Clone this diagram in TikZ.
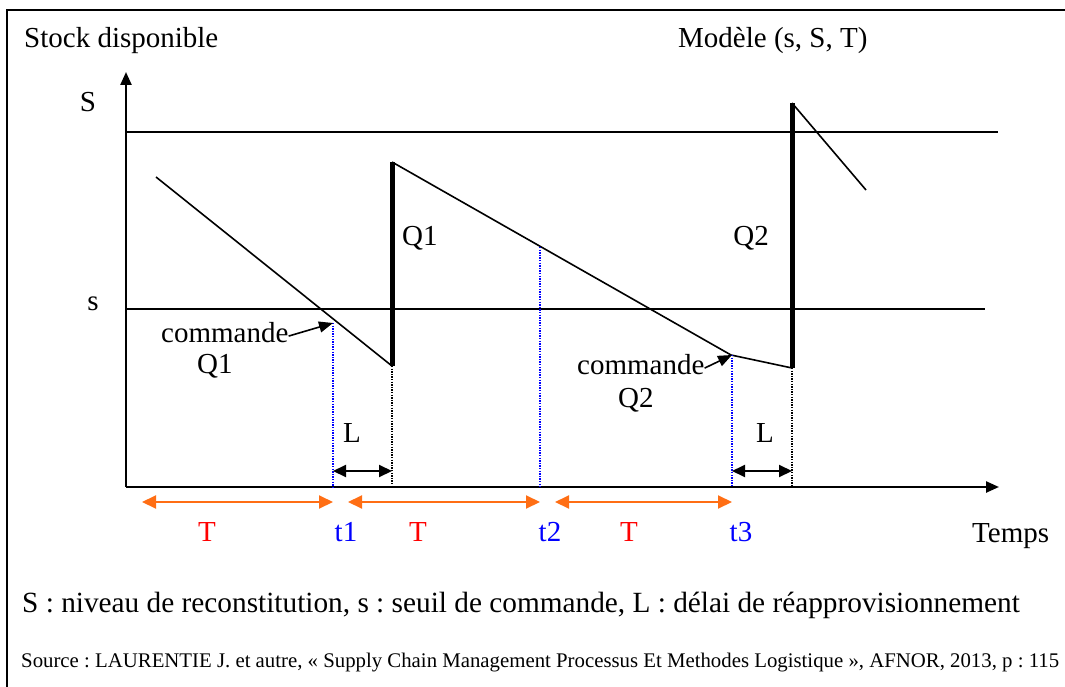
\documentclass[tikz,border=0pt]{standalone}
\usepackage{fontspec}
\setmainfont{Liberation Serif}
\usetikzlibrary{arrows.meta}
\definecolor{ora}{RGB}{255,110,20}
\definecolor{tblue}{RGB}{0,0,255}
\definecolor{tred}{RGB}{255,0,0}
\frenchspacing
\begin{document}
\begin{tikzpicture}[x=1pt,y=-1pt,
  lab/.style={inner sep=0pt, font=\fontsize{29}{34}\selectfont},
  legend/.style={inner sep=0pt, font=\fontsize{29.3}{34}\selectfont},
  srcfont/.style={inner sep=0pt, font=\fontsize{20.8}{24}\selectfont},
  frame/.style={line width=2pt},
  axis/.style={line width=2.4pt, -{Triangle[length=13pt,width=11pt]}},
  level/.style={line width=1.8pt},
  stock/.style={line width=1.6pt},
  refill/.style={line width=5pt},
  bdot/.style={tblue, line width=1.3pt, dash pattern=on 1.3pt off 1.3pt},
  kdot/.style={black, line width=1.3pt, dash pattern=on 1.3pt off 1.3pt},
  larrow/.style={line width=2pt, {Triangle[length=13pt,width=12pt]}-{Triangle[length=13pt,width=12pt]}},
  oarrow/.style={ora, line width=2pt, {Triangle[length=14pt,width=13pt]}-{Triangle[length=14pt,width=13pt]}},
  carrow/.style={line width=1.6pt, -{Triangle[length=14pt,width=11pt]}}]
\useasboundingbox (0,0) rectangle (1065,687);
% frame
\draw[frame] (7,687) -- (7,10) -- (1065,10);
% titles
\node[lab, anchor=base west] (title) at (24,48) {Stock disponible};
\node[lab, anchor=base west] (model) at (678,48) {Modèle (s, S, T)};
% axes
\coordinate (O) at (126,487);
\coordinate (ytop) at (126,72);
\coordinate (xend) at (999,487);
\draw[axis] (O) -- (ytop);
\draw[axis] (O) -- (xend);
% levels
\coordinate (Sl) at (126,132); \coordinate (Sr) at (998,132);
\coordinate (sl) at (126,309); \coordinate (sr) at (985,309);
\draw[level] (Sl) -- (Sr);
\draw[level] (sl) -- (sr);
\node[lab, anchor=base] (Slab) at (88,112) {S};
\node[lab, anchor=base] (slab) at (93,310) {s};
% stock curve
\coordinate (a0) at (156,177);
\coordinate (a1) at (392,366);
\coordinate (a2) at (392,162);
\coordinate (a3) at (731,355);
\coordinate (a4) at (792,368);
\coordinate (a5) at (792,103);
\coordinate (a6) at (866,190);
\draw[stock] (a0) -- (a1);
\draw[stock] (a2) -- (a3) -- (a4);
\draw[stock] (a5) -- (a6);
\draw[refill] (a1) -- (a2);
\draw[refill] (a4) -- (a5);
\node[lab, anchor=base west] (Q1) at (402,245) {Q1};
\node[lab, anchor=base east] (Q2) at (769,245) {Q2};
% dotted verticals
\coordinate (t1top) at (333,323); \coordinate (t1bot) at (333,487);
\coordinate (t2top) at (540,247); \coordinate (t2bot) at (540,487);
\coordinate (t3top) at (732,355); \coordinate (t3bot) at (732,487);
\coordinate (r1bot) at (392,487); \coordinate (r2bot) at (792,487);
\draw[bdot] (t1top) -- (t1bot);
\draw[bdot] (t2top) -- (t2bot);
\draw[bdot] (t3top) -- (t3bot);
\draw[kdot] (a1) -- (r1bot);
\draw[kdot] (a4) -- (r2bot);
% order labels
\node[lab, anchor=base west] (cmd1) at (161,342) {commande};
\node[lab, anchor=base west] (cq1) at (197,373) {Q1};
\node[lab, anchor=base west] (cmd2) at (577,374) {commande};
\node[lab, anchor=base west] (cq2) at (618,407) {Q2};
\draw[carrow] ([yshift=-4pt]cmd1.east) -- (t1top);
\draw[carrow] ([yshift=-4pt]cmd2.east) -- (t3top);
% lead times
\coordinate (L1a) at (333,471); \coordinate (L1b) at (392,471);
\coordinate (L2a) at (732,471); \coordinate (L2b) at (792,471);
\draw[larrow] (L1a) -- (L1b);
\draw[larrow] (L2a) -- (L2b);
\node[lab, anchor=base] (L1) at (352,442) {L};
\node[lab, anchor=base] (L2) at (765,442) {L};
% periods
\coordinate (p0) at (142,502); \coordinate (p1) at (333,502);
\coordinate (p2) at (348,502); \coordinate (p3) at (540,502);
\coordinate (p4) at (555,502); \coordinate (p5) at (732,502);
\draw[oarrow] (p0) -- (p1);
\draw[oarrow] (p2) -- (p3);
\draw[oarrow] (p4) -- (p5);
\node[lab, anchor=base, text=tred] (T1) at (207,541) {T};
\node[lab, anchor=base, text=tred] (T2) at (418,541) {T};
\node[lab, anchor=base, text=tred] (T3) at (629,541) {T};
\node[lab, anchor=base, text=tblue] (tt1) at (346,541) {t1};
\node[lab, anchor=base, text=tblue] (tt2) at (550,541) {t2};
\node[lab, anchor=base, text=tblue] (tt3) at (741,541) {t3};
\node[lab, anchor=base west] (temps) at (972,542) {Temps};
% legend
\node[legend, anchor=base west] (leg) at (22,612) {S : niveau de reconstitution, s : seuil de commande, L : délai de réapprovisionnement};
\node[srcfont, anchor=base west] (src) at (21,667) {Source : LAURENTIE J. et autre, « Supply Chain Management Processus Et Methodes Logistique », AFNOR, 2013, p : 115};
\end{tikzpicture}
\end{document}
